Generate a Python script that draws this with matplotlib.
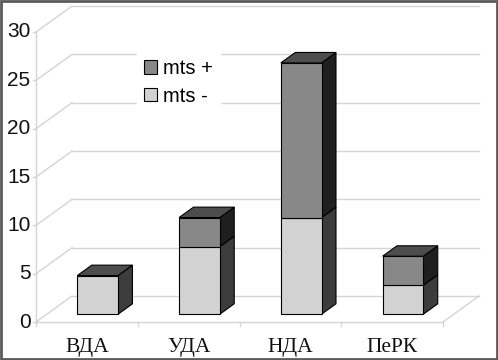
import matplotlib
matplotlib.use('Agg')
import matplotlib.pyplot as plt
from matplotlib.patches import Polygon, Rectangle, Patch

# data
categories = ['ВДА', 'УДА', 'НДА', 'ПеРК']
mts_minus = [4, 7, 10, 3]
mts_plus = [0, 3, 16, 3]
yticks = [0, 5, 10, 15, 20, 25, 30]

# pseudo-3d geometry (category / value units)
DX = 0.354      # depth shift along x
DY = 2.69       # depth shift along y
Z0, Z1 = 0.3, 0.7
BW = 0.4
grid_col = '#d4d4d4'

fig = plt.figure(figsize=(4.98, 3.6), dpi=100)
ax = fig.add_axes([0, 0, 1, 1])
ax.set_xlim(-0.854, 4.04)
ax.set_ylim(-3.93, 33.31)
ax.axis('off')

n = len(categories)
x0, x1 = -0.5, n - 0.5

# walls and gridlines
for v in yticks:
    ax.plot([x0 + DX, x1 + DX], [v + DY, v + DY], color=grid_col, lw=1, zorder=1)
    ax.plot([x0, x0 + DX], [v, v + DY], color=grid_col, lw=1, zorder=1)
    ax.plot([x0 - 0.03, x0], [v, v], color=grid_col, lw=1, zorder=1)
    ax.text(x0 - 0.055, v, str(v), ha='right', va='center', fontsize=15,
            family='Liberation Sans', color='#111111')
ax.plot([x0, x0], [0, yticks[-1]], color=grid_col, lw=1, zorder=1)
ax.plot([x0, x1], [0, 0], color=grid_col, lw=1, zorder=1)
ax.plot([x1, x1 + DX], [0, DY], color=grid_col, lw=1, zorder=1)
for i in range(n + 1):
    ax.plot([x0 + i, x0 + i], [0, -0.4], color=grid_col, lw=1, zorder=1)

for i, c in enumerate(categories):
    ax.text(i, -2.6, c, ha='center', va='center', fontsize=15.5,
            family='Liberation Serif', color='#111111')


def box(xc, b, t, front, side, top):
    xl = xc - BW / 2 + Z0 * DX
    xr = xl + BW
    ddx = (Z1 - Z0) * DX
    ddy = (Z1 - Z0) * DY
    yb = b + Z0 * DY
    yt = t + Z0 * DY
    ax.add_patch(Polygon([(xr, yb), (xr + ddx, yb + ddy), (xr + ddx, yt + ddy), (xr, yt)],
                         closed=True, fc=side, ec='black', lw=0.8, zorder=3))
    ax.add_patch(Rectangle((xl, yb), BW, t - b, fc=front, ec='black', lw=0.8, zorder=4))
    if top:
        ax.add_patch(Polygon([(xl, yt), (xl + ddx, yt + ddy), (xr + ddx, yt + ddy), (xr, yt)],
                             closed=True, fc='#4d4d4d', ec='black', lw=0.8, zorder=4))


for i in range(n):
    lo = mts_minus[i]
    hi = mts_minus[i] + mts_plus[i]
    box(i, 0, lo, '#d2d2d2', '#3c3c3c', mts_plus[i] == 0)
    if mts_plus[i] > 0:
        box(i, lo, hi, '#888888', '#1f1f1f', True)

handles = [Patch(fc='#888888', ec='black', lw=0.8, label='mts +'),
           Patch(fc='#d2d2d2', ec='black', lw=0.8, label='mts -')]
leg = fig.legend(handles=handles, loc='upper left', bbox_to_anchor=(137 / 498, 1 - 52 / 360),
                 frameon=True, fancybox=False, edgecolor='white', framealpha=1,
                 prop={'family': 'Liberation Sans', 'size': 14.5},
                 handlelength=0.65, handleheight=0.65, handletextpad=0.3,
                 labelspacing=0.42, borderpad=0.35, borderaxespad=0)

fig.add_artist(Rectangle((0.002, 0.003), 0.995, 0.994, transform=fig.transFigure,
                         fill=False, ec='#5a5a5a', lw=2))

fig.savefig('out.png', dpi=100)
